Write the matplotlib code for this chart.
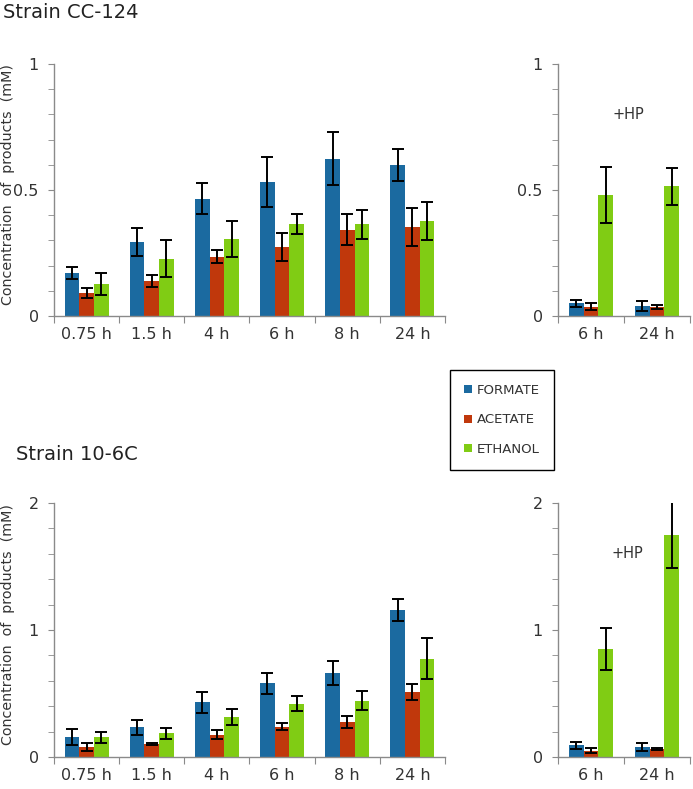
import matplotlib
matplotlib.use("Agg")
import matplotlib.pyplot as plt
import numpy as np
from matplotlib.patches import Patch

series = ["FORMATE", "ACETATE", "ETHANOL"]
colors = ["#1b6aa0", "#c0380c", "#80cc14"]

times_main = ["0.75 h", "1.5 h", "4 h", "6 h", "8 h", "24 h"]
times_hp = ["6 h", "24 h"]

# Strain CC-124
cc_formate = [0.170, 0.294, 0.466, 0.532, 0.625, 0.599]
cc_formate_err = [0.025, 0.057, 0.060, 0.100, 0.107, 0.063]
cc_acetate = [0.090, 0.139, 0.235, 0.274, 0.343, 0.354]
cc_acetate_err = [0.020, 0.025, 0.025, 0.055, 0.062, 0.075]
cc_ethanol = [0.127, 0.228, 0.306, 0.364, 0.364, 0.377]
cc_ethanol_err = [0.045, 0.072, 0.072, 0.040, 0.058, 0.075]

cc_hp_formate = [0.050, 0.040]
cc_hp_formate_err = [0.013, 0.020]
cc_hp_acetate = [0.037, 0.034]
cc_hp_acetate_err = [0.015, 0.008]
cc_hp_ethanol = [0.480, 0.514]
cc_hp_ethanol_err = [0.110, 0.075]

# Strain 10-6C
s6_formate = [0.155, 0.234, 0.430, 0.580, 0.660, 1.160]
s6_formate_err = [0.063, 0.060, 0.083, 0.083, 0.096, 0.088]
s6_acetate = [0.079, 0.103, 0.176, 0.240, 0.276, 0.512]
s6_acetate_err = [0.032, 0.010, 0.033, 0.024, 0.050, 0.060]
s6_ethanol = [0.155, 0.187, 0.313, 0.420, 0.444, 0.774]
s6_ethanol_err = [0.042, 0.045, 0.062, 0.060, 0.074, 0.160]

s6_hp_formate = [0.092, 0.081]
s6_hp_formate_err = [0.030, 0.030]
s6_hp_acetate = [0.050, 0.063]
s6_hp_acetate_err = [0.020, 0.010]
s6_hp_ethanol = [0.850, 1.745]
s6_hp_ethanol_err = [0.165, 0.260]

W, H = 693, 789
fig = plt.figure(figsize=(W / 100, H / 100), dpi=100)

AXC = "#8a8a8a"
TXT = "#333333"


def px_axes(x0, x1, ytop, ybot):
    return fig.add_axes([x0 / W, 1 - ybot / H, (x1 - x0) / W, (ybot - ytop) / H])


def draw(ax, labels, vals, errs, ymax, major, minor, ylabel=True):
    n = len(labels)
    x = np.arange(n) + 0.5
    bw = 0.225
    for i, (v, e) in enumerate(zip(vals, errs)):
        ax.bar(x + (i - 1) * bw, v, bw, color=colors[i], yerr=e,
               error_kw=dict(ecolor="black", elinewidth=1.4, capsize=4, capthick=1.4),
               zorder=2)
    ax.set_xlim(0, n)
    ax.set_ylim(0, ymax)
    for s in ["top", "right"]:
        ax.spines[s].set_visible(False)
    for s in ["left", "bottom"]:
        ax.spines[s].set_color(AXC)
        ax.spines[s].set_linewidth(1.0)
    ax.set_xticks(np.arange(n + 1))
    ax.set_xticklabels([])
    ax.set_xticks(x, minor=True)
    ax.set_xticklabels(labels, minor=True)
    ax.tick_params(axis="x", which="major", length=5, color=AXC, direction="out")
    ax.tick_params(axis="x", which="minor", length=0, pad=8, labelsize=11.5, labelcolor=TXT)
    ax.set_yticks(major)
    ax.set_yticks(minor, minor=True)
    ax.tick_params(axis="y", which="both", length=4, color=AXC, labelsize=11.5,
                   labelcolor=TXT, pad=7)
    if ylabel:
        ax.set_ylabel("Concentration  of  products  (mM)", fontsize=10.3, color=TXT,
                      va="center")
        ax.yaxis.set_label_coords(-45.5 / 391, 0.52)


ax1 = px_axes(54, 445, 64, 316)
draw(ax1, times_main, [cc_formate, cc_acetate, cc_ethanol],
     [cc_formate_err, cc_acetate_err, cc_ethanol_err], 1.0,
     [0, 0.5, 1], np.arange(0, 1.01, 0.1))
ax1.set_yticklabels(["0", "0.5", "1"])

ax2 = px_axes(558, 690, 64, 316)
draw(ax2, times_hp, [cc_hp_formate, cc_hp_acetate, cc_hp_ethanol],
     [cc_hp_formate_err, cc_hp_acetate_err, cc_hp_ethanol_err], 1.0,
     [0, 0.5, 1], np.arange(0, 1.01, 0.1), ylabel=False)
ax2.set_yticklabels(["0", "0.5", "1"])
ax2.text(1.06, 0.80, "+HP", fontsize=10.5, color=TXT, ha="center", va="center")

ax3 = px_axes(54, 445, 503, 757)
draw(ax3, times_main, [s6_formate, s6_acetate, s6_ethanol],
     [s6_formate_err, s6_acetate_err, s6_ethanol_err], 2.0,
     [0, 1, 2], np.arange(0, 2.01, 0.2))
ax3.set_yticklabels(["0", "1", "2"])

ax4 = px_axes(558, 690, 503, 757)
draw(ax4, times_hp, [s6_hp_formate, s6_hp_acetate, s6_hp_ethanol],
     [s6_hp_formate_err, s6_hp_acetate_err, s6_hp_ethanol_err], 2.0,
     [0, 1, 2], np.arange(0, 2.01, 0.2), ylabel=False)
ax4.set_yticklabels(["0", "1", "2"])
ax4.text(1.05, 1.60, "+HP", fontsize=10.5, color=TXT, ha="center", va="center")

fig.text(3 / W, 1 - 12 / H, "Strain CC-124", fontsize=14, color="#222222", va="center", ha="left")
fig.text(16 / W, 1 - 455 / H, "Strain 10-6C", fontsize=14, color="#222222", va="center", ha="left")

handles = [Patch(facecolor=c, edgecolor="none") for c in colors]
leg = fig.legend(handles, series, loc="upper left", bbox_to_anchor=(450 / W, 1 - 370 / H),
                 fancybox=False, edgecolor="black", framealpha=1, fontsize=9.5,
                 handlelength=0.6, handleheight=0.6, handletextpad=0.4,
                 labelspacing=1.25, borderpad=1.05, borderaxespad=0)
leg.get_frame().set_linewidth(1.0)
for t in leg.get_texts():
    t.set_color(TXT)

fig.savefig("out.png", dpi=100)
